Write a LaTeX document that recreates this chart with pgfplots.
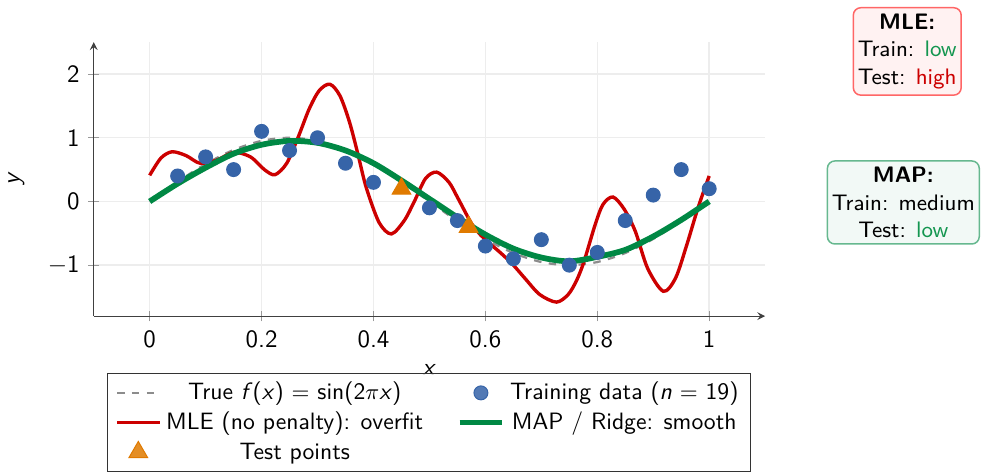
\documentclass[border=0pt]{standalone}
\usepackage{pgfplots}
\pgfplotsset{compat=1.18}
\definecolor{mlered}{RGB}{204,0,0}
\definecolor{mapgreen}{RGB}{0,136,68}
\definecolor{dotblue}{RGB}{54,100,168}
\definecolor{triorange}{RGB}{224,122,0}
\definecolor{lowgreen}{RGB}{20,150,80}
\begin{document}
\sffamily
\begin{tikzpicture}
\begin{axis}[
  scale only axis,
  width=269.6pt, height=110pt,
  xmin=-0.1, xmax=1.1, ymin=-1.8, ymax=2.5,
  axis lines=left,
  axis line style={black!75},
  tick style={black!40},
  xtick={0,0.2,0.4,0.6,0.8,1},
  xticklabels={0,0.2,0.4,0.6,0.8,1},
  ytick={-1,0,1,2},
  yticklabels={$-$1,0,1,2},
  ticklabel style={font=\sffamily},
  grid=major,
  grid style={black!7, line width=0.6pt},
  xlabel={\textit{x}}, ylabel={\textit{y}},
  ylabel shift=2.5pt,
  clip=false,
  legend columns=2,
  legend cell align=center,
  legend style={at={(0.5,-0.207)}, anchor=north, font=\fontsize{9.5}{11}\selectfont,
    fill=white, fill opacity=0.85, text opacity=1, draw opacity=1, draw=black!80,
    cells={text height=7.2pt, text depth=2.6pt},
    inner ysep=1.5pt,
    /tikz/every even column/.append style={column sep=11.5pt},
    row sep=-0.8pt},
]
% true function
\addplot[forget plot, black!45, dashed, line width=0.9pt, smooth] coordinates {
(0,0) (0.05,0.309) (0.1,0.588) (0.15,0.809) (0.2,0.951) (0.25,1) (0.3,0.951)
(0.35,0.809) (0.4,0.588) (0.45,0.309) (0.5,0) (0.55,-0.309) (0.6,-0.588)
(0.65,-0.809) (0.7,-0.951) (0.75,-1) (0.8,-0.951) (0.85,-0.809) (0.9,-0.588)
(0.95,-0.309) (1,0)};
% MLE
\addplot[forget plot, mlered, line width=1.35pt, smooth] coordinates {
(0,0.41) (0.02,0.68) (0.04,0.78) (0.065,0.72) (0.09,0.60) (0.12,0.65)
(0.15,0.77) (0.18,0.70) (0.205,0.50) (0.224,0.42) (0.245,0.60) (0.265,1.0)
(0.285,1.45) (0.303,1.74) (0.322,1.84) (0.34,1.66) (0.357,1.25) (0.372,0.75)
(0.387,0.22) (0.41,-0.33) (0.432,-0.51) (0.455,-0.30) (0.473,0.0) (0.493,0.36)
(0.513,0.46) (0.535,0.30) (0.551,0.05) (0.577,-0.37) (0.6,-0.60) (0.625,-0.79)
(0.648,-0.98) (0.672,-1.22) (0.697,-1.46) (0.727,-1.58) (0.748,-1.46)
(0.763,-1.24) (0.776,-0.95) (0.796,-0.37) (0.81,-0.05) (0.828,0.07) (0.848,-0.12)
(0.868,-0.47) (0.89,-1.05) (0.918,-1.41) (0.94,-1.20) (0.96,-0.68) (0.98,-0.10)
(1.0,0.40)};
% MAP
\addplot[forget plot, mapgreen, line width=2.3pt, smooth] coordinates {
(0,0) (0.05,0.28) (0.1,0.53) (0.15,0.75) (0.2,0.89) (0.25,0.95) (0.3,0.92)
(0.35,0.80) (0.4,0.60) (0.45,0.33) (0.5,0.04) (0.55,-0.25) (0.6,-0.52)
(0.65,-0.74) (0.7,-0.88) (0.75,-0.94) (0.8,-0.87) (0.85,-0.76) (0.9,-0.55)
(0.95,-0.29) (1,0)};
% training data
\addplot[forget plot, only marks, dotblue, mark=*, mark size=2.8pt, mark options={fill=dotblue}] coordinates {
(0.05,0.4) (0.10,0.7) (0.15,0.5) (0.20,1.1) (0.25,0.8) (0.30,1.0) (0.35,0.6)
(0.40,0.3) (0.50,-0.1) (0.55,-0.3) (0.60,-0.7) (0.65,-0.9) (0.70,-0.6)
(0.75,-1.0) (0.80,-0.8) (0.85,-0.3) (0.90,0.1) (0.95,0.5) (1.00,0.2)};
% test points
\addplot[forget plot, only marks, triorange, mark=triangle*, mark size=4.3pt, mark options={fill=triorange}] coordinates {
(0.45,0.2) (0.57,-0.4)};
% legend
\addlegendimage{black!45, dashed, line width=0.9pt}
\addlegendentry{True \textit{f}(\textit{x}) $=$ sin(2$\pi$\textit{x})}
\addlegendimage{only marks, dotblue, mark=*, mark size=2.8pt, mark options={fill=dotblue}}
\addlegendentry{Training data (\textit{n} $=$ 19)}
\addlegendimage{mlered, line width=1.35pt}
\addlegendentry{MLE (no penalty): overfit}
\addlegendimage{mapgreen, line width=2.3pt}
\addlegendentry{MAP / Ridge: smooth}
\addlegendimage{only marks, triorange, mark=triangle*, mark size=4.3pt, mark options={fill=triorange}}
\addlegendentry{Test points}
% annotation boxes
\node[name=mlebox, draw=red!60, fill=red!5, rounded corners=3pt, align=center, font=\small, inner xsep=1.8pt, inner ysep=2.5pt, line width=0.6pt]
  at (axis cs:1.354,2.355) {\textbf{MLE:}\\Train: \textcolor{lowgreen}{low}\\Test: \textcolor{mlered}{high}};
\node[name=mapbox, draw=mapgreen!60, fill=mapgreen!5, rounded corners=3pt, align=center, font=\small, inner xsep=1.8pt, inner ysep=2.5pt, line width=0.6pt]
  at (axis cs:1.347,-0.016) {\textbf{MAP:}\\Train: medium\\Test: \textcolor{lowgreen}{low}};
\end{axis}
\path ([yshift=2.8pt]mlebox.north) ([xshift=2pt]mapbox.east);
\end{tikzpicture}
\end{document}
